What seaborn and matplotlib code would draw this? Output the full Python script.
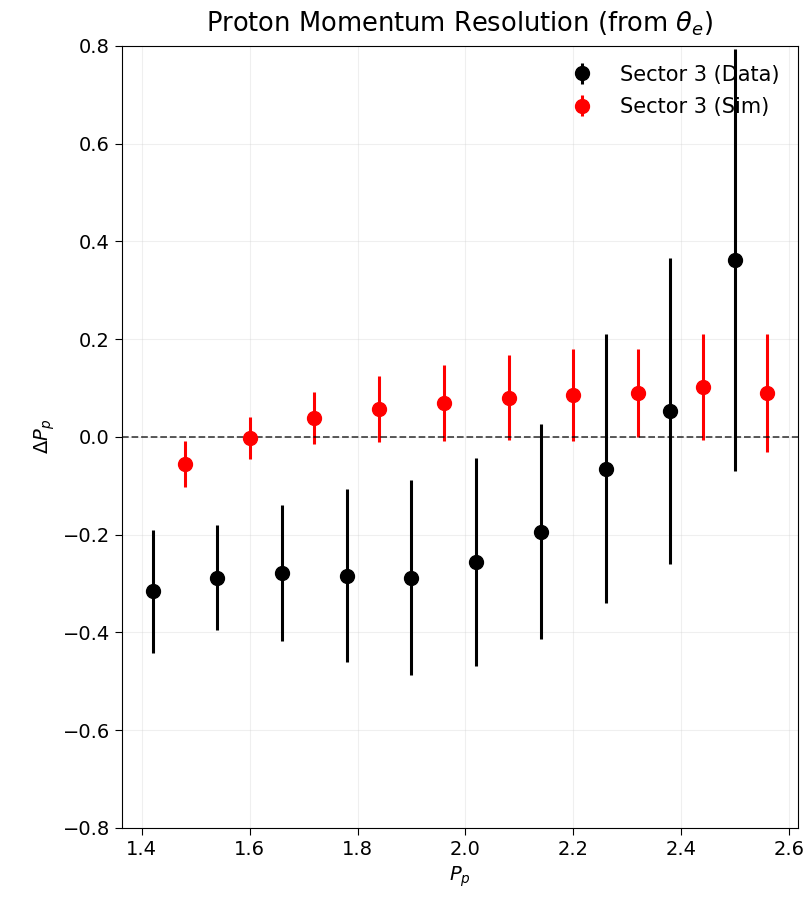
import numpy as np
import matplotlib
matplotlib.use("Agg")
import matplotlib.pyplot as plt
import seaborn as sns

# Sector 3 data (measured)
p_data = [1.42, 1.54, 1.66, 1.78, 1.90, 2.02, 2.14, 2.26, 2.38, 2.50]
dp_data = [-0.316, -0.288, -0.278, -0.284, -0.288, -0.256, -0.194, -0.065, 0.053, 0.362]
err_data = [0.126, 0.107, 0.139, 0.177, 0.200, 0.212, 0.220, 0.275, 0.313, 0.432]

# Sector 3 simulation
p_sim = [1.48, 1.60, 1.72, 1.84, 1.96, 2.08, 2.20, 2.32, 2.44, 2.56]
dp_sim = [-0.056, -0.003, 0.038, 0.057, 0.070, 0.080, 0.086, 0.090, 0.102, 0.090]
err_sim = [0.047, 0.043, 0.053, 0.068, 0.078, 0.087, 0.094, 0.090, 0.108, 0.120]

sns.set_style("ticks", {'axes.edgecolor': 'black', 'text.color': 'black',
                        'axes.labelcolor': 'black', 'xtick.color': 'black',
                        'ytick.color': 'black'})
plt.rcParams['font.family'] = ['DejaVu Sans']

fig, ax = plt.subplots(figsize=(8.12, 8.98), dpi=100)
fig.subplots_adjust(left=0.150, right=0.983, top=0.949, bottom=0.078)

ax.errorbar(p_data, dp_data, yerr=err_data, fmt='o', color='black',
            markersize=10, elinewidth=2.2, label='Sector 3 (Data)')
ax.errorbar(p_sim, dp_sim, yerr=err_sim, fmt='o', color='red',
            markersize=10, elinewidth=2.2, label='Sector 3 (Sim)')
ax.axhline(0, color='black', linestyle='--', linewidth=1.3, alpha=0.7)

ax.set_ylim(-0.8, 0.8)
ax.set_xticks([1.4, 1.6, 1.8, 2.0, 2.2, 2.4, 2.6])
ax.grid(True, alpha=0.3)
ax.tick_params(labelsize=14, length=5)
ax.set_title(r'Proton Momentum Resolution (from $\theta_e$)', fontsize=18.5, pad=10)
ax.set_xlabel(r'$P_p$', fontsize=14)
ax.set_ylabel(r'$\Delta P_p$', fontsize=14)
ax.legend(loc='upper right', frameon=False, fontsize=15, labelspacing=0.6)

fig.savefig('out.png', dpi=100)
